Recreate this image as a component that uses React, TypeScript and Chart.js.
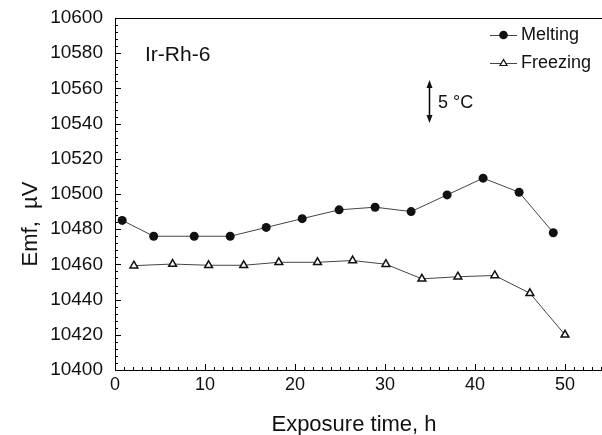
import React, { useEffect, useRef } from "react";
import { Chart, registerables } from "chart.js";

Chart.register(...registerables);

const meltX = [0.8, 4.3, 8.8, 12.8, 16.8, 20.8, 24.9, 28.9, 32.9, 36.9, 40.9, 44.9, 48.7];
const meltY = [10485, 10476, 10476, 10476, 10481, 10486, 10491, 10492.5, 10490, 10499.5, 10509, 10501, 10478];
const freezeX = [2.1, 6.4, 10.4, 14.3, 18.2, 22.5, 26.4, 30.1, 34.1, 38.1, 42.2, 46.1, 50.0];
const freezeY = [10459.3, 10460.2, 10459.5, 10459.5, 10461.2, 10461.2, 10462.2, 10460.1, 10451.8, 10453, 10453.7, 10443.6, 10420];
const xTicks = [0, 10, 20, 30, 40, 50];
const yTicks = [10400, 10420, 10440, 10460, 10480, 10500, 10520, 10540, 10560, 10580, 10600];
const seriesNames = ["Melting", "Freezing"];
const xTitle = "Exposure time, h";
const yTitle = "Emf,  \u00b5V";
const sampleLabel = "Ir-Rh-6";
const scaleLabel = "5 \u00b0C";

const FONT = "'Liberation Sans', Arial, sans-serif";

const decorPlugin = {
  id: "decor",
  afterDraw(chart: any) {
    const ctx = chart.ctx as CanvasRenderingContext2D;
    const xs = chart.scales.x;
    const ys = chart.scales.y;
    const area = chart.chartArea;
    ctx.save();
    ctx.strokeStyle = "#000";
    ctx.lineWidth = 1;
    // top border
    ctx.beginPath();
    ctx.moveTo(area.left, area.top + 0.5);
    ctx.lineTo(area.right, area.top + 0.5);
    ctx.stroke();
    // x minor/major ticks (inside)
    for (let v = 0; v <= xs.max; v += 1) {
      const px = Math.round(xs.getPixelForValue(v)) + 0.5;
      const len = v % 10 === 0 ? 6 : 3;
      ctx.beginPath();
      ctx.moveTo(px, area.bottom);
      ctx.lineTo(px, area.bottom - len);
      ctx.stroke();
    }
    // y ticks
    for (let v = ys.min; v <= ys.max; v += 4) {
      const py = Math.round(ys.getPixelForValue(v)) + 0.5;
      const len = (v - ys.min) % 20 === 0 ? 6 : 3;
      ctx.beginPath();
      ctx.moveTo(area.left, py);
      ctx.lineTo(area.left + len, py);
      ctx.stroke();
    }
    // titles
    ctx.fillStyle = "#111";
    ctx.font = `22px ${FONT}`;
    ctx.textAlign = "center";
    ctx.textBaseline = "alphabetic";
    ctx.fillText(xTitle, 354, 431);
    ctx.save();
    ctx.translate(37, 224);
    ctx.rotate(-Math.PI / 2);
    ctx.fillText(yTitle, 0, 0);
    ctx.restore();

    // sample label
    ctx.font = `21px ${FONT}`;
    ctx.textAlign = "left";
    ctx.textBaseline = "middle";
    ctx.fillText(sampleLabel, 145, 55);

    // 5 C arrow
    const ax = 429.5;
    const top = 80;
    const bot = 123;
    ctx.beginPath();
    ctx.moveTo(ax, top + 4);
    ctx.lineTo(ax, bot - 4);
    ctx.lineWidth = 1.5;
    ctx.stroke();
    ctx.beginPath();
    ctx.moveTo(ax, top);
    ctx.lineTo(ax - 3, top + 8);
    ctx.lineTo(ax + 3, top + 8);
    ctx.closePath();
    ctx.fill();
    ctx.beginPath();
    ctx.moveTo(ax, bot);
    ctx.lineTo(ax - 3, bot - 8);
    ctx.lineTo(ax + 3, bot - 8);
    ctx.closePath();
    ctx.fill();
    ctx.font = `18px ${FONT}`;
    ctx.fillText(scaleLabel, 438, 103);

    // legend
    const lx1 = 490;
    const lx2 = 517;
    const rows = [35, 63];
    ctx.font = `18px ${FONT}`;
    rows.forEach((ry, i) => {
      ctx.strokeStyle = "#444";
      ctx.lineWidth = 1;
      ctx.beginPath();
      ctx.moveTo(lx1, ry + 0.5);
      ctx.lineTo(lx2, ry + 0.5);
      ctx.stroke();
      const cx = (lx1 + lx2) / 2;
      if (i === 0) {
        ctx.fillStyle = "#111";
        ctx.beginPath();
        ctx.arc(cx, ry, 4.3, 0, Math.PI * 2);
        ctx.fill();
      } else {
        ctx.fillStyle = "#fff";
        ctx.strokeStyle = "#111";
        ctx.lineWidth = 1.2;
        ctx.beginPath();
        ctx.moveTo(cx, ry - 3.5);
        ctx.lineTo(cx - 3.5, ry + 2.5);
        ctx.lineTo(cx + 3.5, ry + 2.5);
        ctx.closePath();
        ctx.fill();
        ctx.stroke();
      }
      ctx.fillStyle = "#111";
      ctx.fillText(seriesNames[i], 521, ry);
    });
    ctx.restore();
  },
};

export default function App() {
  const ref = useRef<HTMLCanvasElement | null>(null);
  useEffect(() => {
    document.body.style.margin = "0";
    const canvas = ref.current;
    if (!canvas) return;
    const chart = new Chart(canvas, {
      type: "line",
      data: {
        datasets: [
          {
            label: seriesNames[0],
            data: meltX.map((x, i) => ({ x, y: meltY[i] })),
            borderColor: "#444",
            borderWidth: 1,
            pointStyle: "circle",
            pointRadius: 4.5,
            pointBackgroundColor: "#111",
            pointBorderColor: "#111",
            pointBorderWidth: 0,
            tension: 0,
          },
          {
            label: seriesNames[1],
            data: freezeX.map((x, i) => ({ x, y: freezeY[i] })),
            borderColor: "#444",
            borderWidth: 1,
            pointStyle: "triangle",
            pointRadius: 4.5,
            pointBackgroundColor: "#fff",
            pointBorderColor: "#111",
            pointBorderWidth: 1.5,
            tension: 0,
          },
        ],
      },
      options: {
        animation: false,
        responsive: false,
        maintainAspectRatio: false,
        devicePixelRatio: 1,
        layout: { autoPadding: false, padding: { top: 18, right: 0, left: 0, bottom: 0 } },
        plugins: { legend: { display: false }, tooltip: { enabled: false } },
        scales: {
          x: {
            type: "linear",
            min: 0,
            max: (602 - 115) / 9,
            afterBuildTicks: (s: any) => {
              s.ticks = xTicks.map((v) => ({ value: v }));
            },
            afterFit: (s: any) => {
              s.height = 65;
              s.paddingLeft = 0;
              s.paddingRight = 0;
            },
            grid: { display: false, drawTicks: false },
            border: { display: true, color: "#000", width: 1 },
            ticks: {
              padding: 4,
              autoSkip: false,
              maxRotation: 0,
              color: "#111",
              font: { family: FONT, size: 18 },
              callback: (v: any) => String(v),
            },
          },
          y: {
            type: "linear",
            min: 10400,
            max: 10600,
            afterBuildTicks: (s: any) => {
              s.ticks = yTicks.map((v) => ({ value: v }));
            },
            afterFit: (s: any) => {
              s.width = 115;
              s.paddingTop = 0;
              s.paddingBottom = 0;
            },
            grid: { display: false, drawTicks: false },
            border: { display: true, color: "#000", width: 1 },
            ticks: {
              padding: 12,
              autoSkip: false,
              color: "#111",
              font: { family: FONT, size: 19 },
              callback: (v: any) => String(v),
            },
          },
        },
      },
      plugins: [decorPlugin],
    });
    return () => chart.destroy();
  }, []);
  return (
    <div style={{ position: "fixed", left: 0, top: 0, width: 602, height: 435, background: "#fff" }}>
      <canvas ref={ref} width={602} height={435} style={{ width: 602, height: 435, display: "block" }} />
    </div>
  );
}
